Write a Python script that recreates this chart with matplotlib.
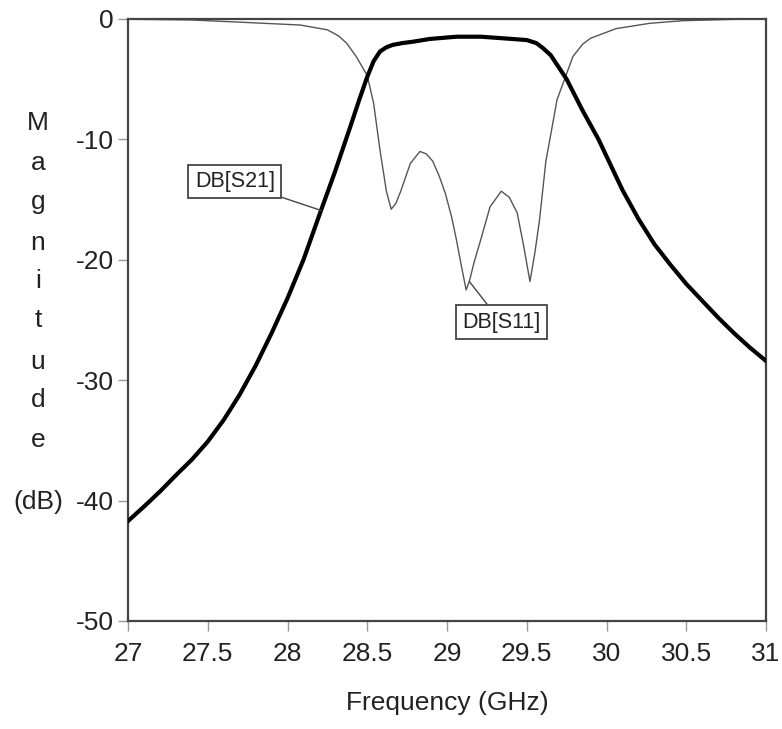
import matplotlib
matplotlib.use("Agg")
import matplotlib.pyplot as plt

plt.rcParams["font.family"] = ["Liberation Sans", "DejaVu Sans"]
plt.rcParams["axes.unicode_minus"] = False

# S21 (GHz, dB)
s21_f = [27.00, 27.10, 27.20, 27.30, 27.40, 27.50, 27.60, 27.70, 27.80, 27.90, 28.00,
         28.10, 28.21, 28.30, 28.40, 28.45, 28.50, 28.54, 28.58, 28.62, 28.66, 28.72,
         28.79, 28.89, 29.06, 29.21, 29.37, 29.50, 29.56, 29.60, 29.65, 29.69, 29.75,
         29.80, 29.85, 29.90, 29.95, 30.00, 30.10, 30.20, 30.30, 30.40, 30.50, 30.60,
         30.70, 30.80, 30.90, 31.00]
s21_db = [-41.7, -40.5, -39.25, -37.9, -36.6, -35.1, -33.3, -31.2, -28.8, -26.1, -23.2,
          -20.0, -15.9, -12.6, -8.7, -6.7, -4.8, -3.5, -2.7, -2.35, -2.15, -2.0,
          -1.88, -1.66, -1.47, -1.47, -1.62, -1.75, -2.0, -2.4, -3.0, -3.8, -5.0,
          -6.3, -7.6, -8.8, -10.0, -11.4, -14.2, -16.6, -18.7, -20.4, -22.0, -23.4,
          -24.8, -26.1, -27.3, -28.4]

# S11 (GHz, dB)
s11_f = [27.00, 27.40, 27.76, 28.08, 28.25, 28.32, 28.37, 28.43, 28.50, 28.54, 28.58,
         28.62, 28.65, 28.68, 28.71, 28.77, 28.83, 28.87, 28.91, 28.95, 28.99, 29.03,
         29.06, 29.09, 29.12, 29.14, 29.17, 29.21, 29.27, 29.34, 29.39, 29.44, 29.48,
         29.52, 29.55, 29.58, 29.62, 29.66, 29.69, 29.74, 29.79, 29.85, 29.90, 30.06,
         30.27, 30.48, 30.79, 31.00]
s11_db = [-0.02, -0.08, -0.3, -0.5, -0.9, -1.4, -2.0, -3.1, -4.7, -7.0, -10.9,
          -14.3, -15.8, -15.3, -14.3, -12.0, -11.0, -11.2, -11.8, -13.0, -14.5, -16.5,
          -18.4, -20.5, -22.5, -21.8, -20.2, -18.4, -15.6, -14.3, -14.8, -16.1, -18.8,
          -21.8, -19.5, -16.7, -11.8, -8.9, -6.7, -4.9, -3.1, -2.1, -1.6, -0.8,
          -0.36, -0.14, -0.03, -0.01]

x_ticks = [27, 27.5, 28, 28.5, 29, 29.5, 30, 30.5, 31]
x_labels = ["27", "27.5", "28", "28.5", "29", "29.5", "30", "30.5", "31"]
y_ticks = [0, -10, -20, -30, -40, -50]

W, H = 782, 729
fig = plt.figure(figsize=(W / 100, H / 100), dpi=100)
ax = fig.add_axes([128 / W, 1 - 621 / H, (766 - 128) / W, (621 - 19) / H])

ax.plot(s11_f, s11_db, color="#555555", lw=1.0, zorder=2)
ax.plot(s21_f, s21_db, color="black", lw=3.0, zorder=3, solid_joinstyle="round")

ax.set_xlim(27, 31)
ax.set_ylim(-50, 0)
ax.set_xticks(x_ticks)
ax.set_xticklabels(x_labels)
ax.set_yticks(y_ticks)
ax.set_yticklabels([str(v) for v in y_ticks])
ax.tick_params(axis="both", direction="out", length=7, width=1, color="#999999",
               labelsize=19, labelcolor="#222222")
ax.tick_params(axis="x", pad=8)
ax.tick_params(axis="y", pad=3)
for sp in ax.spines.values():
    sp.set_color("#444444")
    sp.set_linewidth(1.6)

ax.set_xlabel("Frequency (GHz)", fontsize=19, color="#222222", labelpad=18)

# stacked y label
for ch, yp in zip("Magnitude", [123, 163, 202, 243, 281, 320, 362, 400, 440]):
    fig.text(38 / W, 1 - yp / H, ch, ha="center", va="center", fontsize=19, color="#222222")
fig.text(38 / W, 1 - 502 / H, "(dB)", ha="center", va="center", fontsize=19, color="#222222")

box = dict(boxstyle="square,pad=0.3", fc="white", ec="#444444", lw=1.3)
arr = dict(arrowstyle="-", color="#444444", lw=1.0, shrinkA=0, shrinkB=0)
i21 = s21_f.index(28.21)
ax.annotate("DB[S21]", xy=(s21_f[i21], s21_db[i21]), xytext=(27.67, -13.5),
            ha="center", va="center", fontsize=15.5, color="#222222", bbox=box, arrowprops=arr)
i11 = s11_f.index(29.14)
ax.annotate("DB[S11]", xy=(s11_f[i11], s11_db[i11]), xytext=(29.34, -25.2),
            ha="center", va="center", fontsize=15.5, color="#222222", bbox=box, arrowprops=arr)

fig.savefig("out.png", dpi=100)
